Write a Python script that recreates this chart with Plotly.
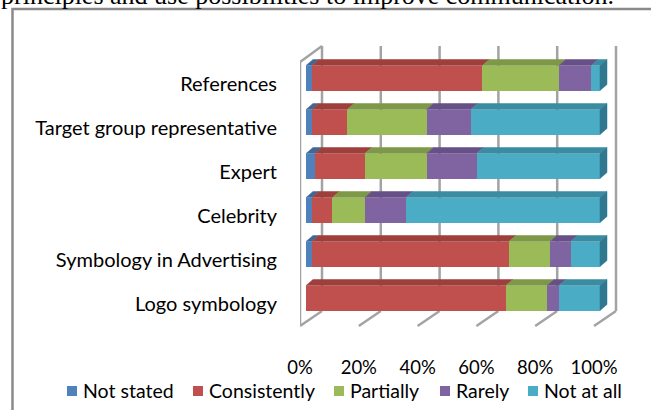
import plotly.graph_objects as go

# ---------------- data ----------------
categories = ["Logo symbology", "Symbology in Advertising", "Celebrity",
              "Expert", "Target group representative", "References"]
series_names = ["Not stated", "Consistently", "Partially", "Rarely", "Not at all"]
not_stated   = [0, 2, 2, 3, 2, 2]
consistently = [68, 67, 7, 17, 12, 58]
partially    = [14, 14, 11, 21, 27, 26]
rarely       = [4, 7, 14, 17, 15, 11]
not_at_all   = [14, 10, 66, 42, 44, 3]
tick_values = [0, 20, 40, 60, 80, 100]
tick_labels = ["0%", "20%", "40%", "60%", "80%", "100%"]

series_values = [not_stated, consistently, partially, rarely, not_at_all]
front_colors = ["#4F81BD", "#C0504D", "#9BBB59", "#8064A2", "#4BACC6"]
top_colors   = ["#3F6899", "#9E3F3C", "#7D9947", "#674F87", "#3A8CA3"]
side_colors  = ["#355887", "#86332F", "#6A833B", "#563F72", "#2F7890"]

# ---------------- geometry (pixels) ----------------
W, H = 651, 410
L, R, T, B = 300, 630, 45, 326       # plot area
X0PX, PXPER = 306, 2.94              # 0% front face, px per %
ROW0PX, ROWSTEP = 298, 44            # bottom row centre, row spacing
BARW = 25 / 44                        # bar thickness (category units)
DXPX, DYPX = 7, 6                     # 3-D depth offsets
dx = DXPX / PXPER
dy = DYPX / ROWSTEP

def py(p):
    return (B - p) / (B - T)

def px(p):
    return (p - L) / (R - L)

xrange_ = [(L - X0PX) / PXPER, (R - X0PX) / PXPER]
yrange_ = [-(B - ROW0PX) / ROWSTEP, 5 + (ROW0PX - 5 * ROWSTEP - T) / ROWSTEP]

ypos = list(range(len(categories)))

fig = go.Figure()

# front faces
for name, vals, col in zip(series_names, series_values, front_colors):
    fig.add_trace(go.Bar(
        y=ypos, x=vals, orientation="h", name=name, width=BARW,
        marker=dict(color=col, line=dict(width=0)), showlegend=False))

# top faces and right side faces computed from the data
n = len(categories)
starts = [0.0] * n
last_nonzero = [max(i for i in range(len(series_values)) if series_values[i][r] > 0) for r in range(n)]
for si, (vals, tc, sc) in enumerate(zip(series_values, top_colors, side_colors)):
    tx, ty, sx, sy = [], [], [], []
    for r in range(n):
        v = vals[r]
        a, b = starts[r], starts[r] + v
        top = r + BARW / 2
        bot = r - BARW / 2
        if v > 0:
            tx += [a, b, b + dx, a + dx, a, None]
            ty += [top, top, top + dy, top + dy, top, None]
            if si == last_nonzero[r]:
                sx += [b, b + dx, b + dx, b, b, None]
                sy += [bot, bot + dy, top + dy, top, bot, None]
        starts[r] = b
    fig.add_trace(go.Scatter(x=tx, y=ty, mode="lines", fill="toself", fillcolor=tc,
                             line=dict(width=0.5, color=tc), hoverinfo="skip", showlegend=False))
    if sx:
        fig.add_trace(go.Scatter(x=sx, y=sy, mode="lines", fill="toself", fillcolor=sc,
                                 line=dict(width=0.5, color=sc), hoverinfo="skip", showlegend=False))

shapes = []
GRID = "#A3A3A3"
# back wall gridlines and floor diagonals
for v in tick_values:
    shapes.append(dict(type="line", xref="x", xsizemode="pixel", xanchor=v,
                       x0=16, x1=16, yref="paper", y0=py(311), y1=py(46),
                       line=dict(color=GRID, width=2.5), layer="below"))
    shapes.append(dict(type="line", xref="x", xsizemode="pixel", xanchor=v,
                       x0=-6, x1=16, yref="paper", y0=py(326), y1=py(311),
                       line=dict(color=GRID, width=2.5), layer="below"))
# left wall
shapes.append(dict(type="line", xref="x", xsizemode="pixel", xanchor=0,
                   x0=-6, x1=-6, yref="paper", y0=py(326), y1=py(62),
                   line=dict(color=GRID, width=2.5), layer="below"))
shapes.append(dict(type="line", xref="x", xsizemode="pixel", xanchor=0,
                   x0=-6, x1=16, yref="paper", y0=py(62), y1=py(46),
                   line=dict(color=GRID, width=2.5), layer="below"))
# outer frame
shapes.append(dict(type="path", xref="paper", yref="paper",
                   path=f"M{px(12.5)},{py(430)} L{px(12.5)},{py(9)} L{px(670)},{py(9)}",
                   line=dict(color="#8A8A8A", width=2.5)))

annotations = []
# document text above the chart
annotations.append(dict(text="principles and use possibilities to improve communication.",
                        xref="paper", yref="paper", x=px(-1), y=py(12),
                        xanchor="left", yanchor="bottom", showarrow=False,
                        font=dict(family="Liberation Serif", size=26, color="#000000")))

# legend
legend_text_x = [81, 207, 348, 454, 542]
LEG_Y = 390
for name, col, tx in zip(series_names, front_colors, legend_text_x):
    shapes.append(dict(type="rect", xref="paper", yref="paper",
                       x0=px(tx - 14), x1=px(tx - 4), y0=py(LEG_Y + 6), y1=py(LEG_Y - 4),
                       fillcolor=col, line=dict(width=0)))
    annotations.append(dict(text=name, xref="paper", yref="paper", x=px(tx), y=py(LEG_Y),
                            xanchor="left", yanchor="middle", showarrow=False,
                            font=dict(family="Lato", size=19.5, color="#000000")))

fig.update_layout(
    width=W, height=H,
    margin=dict(l=L, r=W - R, t=T, b=H - B, pad=0),
    barmode="stack", bargap=0,
    paper_bgcolor="white", plot_bgcolor="rgba(0,0,0,0)",
    showlegend=False,
    font=dict(family="Lato", size=20, color="#000000"),
    shapes=shapes, annotations=annotations,
    xaxis=dict(range=xrange_, tickvals=tick_values, ticktext=tick_labels,
               tickfont=dict(size=18.5),
               showgrid=False, zeroline=False, showline=False, ticks="",
               ticklabelshift=-6, ticklabelstandoff=28, fixedrange=True),
    yaxis=dict(range=yrange_, tickvals=ypos, ticktext=categories,
               showgrid=False, zeroline=False, showline=False, ticks="",
               ticklabelshift=6, ticklabelstandoff=22, fixedrange=True),
)

fig.write_html("out.html", config={"displayModeBar": False},
               post_script="document.body.style.margin='0px';")
